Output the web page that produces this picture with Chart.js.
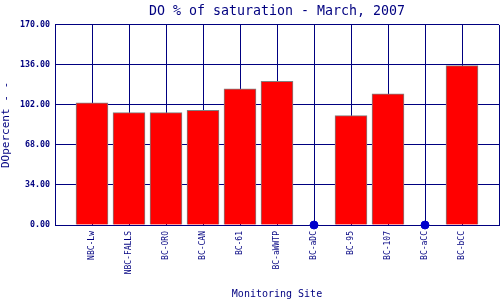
<!DOCTYPE html>
<html>
<head>
<meta charset="utf-8">
<script src="https://cdn.jsdelivr.net/npm/chart.js@4"></script>
<style>
  html, body { margin: 0; padding: 0; background: #fff; }
  #wrap { width: 500px; height: 300px; }
</style>
</head>
<body>
<div id="wrap"><canvas id="chart" width="500" height="300"></canvas></div>
<script>
// sites along the x axis
const sites = ["NBC-Lw", "NBC-FALLS", "BC-ORO", "BC-CAN", "BC-61", "BC-aWWTP",
               "BC-aDC", "BC-95", "BC-107", "BC-aCC", "BC-bCC"];
// DO % of saturation, null = no sample (drawn as dot at zero)
const doPercent = [103.9, 95.5, 95.5, 97.4, 115.8, 122.0, null, 92.9, 111.5, null, 135.5];
const yTicks = [0, 34, 68, 102, 136, 170];

const navy = "#000080";
const mono = "'DejaVu Sans Mono', 'Liberation Mono', monospace";

// pad with empty slots so gridlines sit on each site, like the original
const labels = [""].concat(sites, [""]);
const barData = [null].concat(doPercent, [null]);
const missing = [null].concat(doPercent.map(v => v === null ? 0 : null), [null]);

new Chart(document.getElementById("chart"), {
  data: {
    labels: labels,
    datasets: [
      {
        type: "line",
        data: missing,
        backgroundColor: "#0000cc",
        borderColor: "#0000cc",
        pointRadius: 4,
        showLine: false,
        clip: false,
        order: 0
      },
      {
        type: "bar",
        data: barData,
        backgroundColor: "#ff0000",
        borderColor: "#808080",
        borderWidth: 1,
        barThickness: 32,
        order: 1
      }
    ]
  },
  options: {
    responsive: false,
    animation: false,
    layout: { autoPadding: false, padding: { top: 0, right: 1, left: 0, bottom: 0 } },
    plugins: {
      legend: { display: false },
      tooltip: { enabled: false },
      title: {
        display: true,
        fullSize: false, // centre over the plot, not the canvas
        text: "DO % of saturation - March, 2007",
        color: navy,
        font: { family: mono, size: 13.3, weight: "normal" },
        padding: { top: 4, bottom: 5 }
      }
    },
    scales: {
      x: {
        type: "category",
        offset: false,
        grid: { color: navy, lineWidth: 1, drawTicks: false, offset: false },
        border: { color: navy, width: 1 },
        ticks: {
          color: navy,
          autoSkip: false,
          minRotation: 90,
          maxRotation: 90,
          padding: 6,
          font: { family: mono, size: 8 }
        },
        title: {
          display: true,
          text: "Monitoring Site",
          color: navy,
          font: { family: mono, size: 10 },
          padding: { top: 0, bottom: 0 }
        },
        // rotated labels would otherwise pad the plot's right side
        afterFit: s => { s.height = 75; s.paddingLeft = 0; s.paddingRight = 0; }
      },
      y: {
        min: 0,
        max: 170,
        afterBuildTicks: s => { s.ticks = yTicks.map(v => ({ value: v })); },
        grid: { color: navy, lineWidth: 1, drawTicks: false },
        border: { color: navy, width: 1 },
        ticks: {
          color: navy,
          padding: 5,
          font: { family: mono, size: 8.3, weight: "bold" },
          callback: v => v.toFixed(2)
        },
        title: {
          display: true,
          text: "DOpercent - -",
          color: navy,
          font: { family: mono, size: 11 },
          padding: { top: 0, bottom: 2 }
        },
        afterFit: s => { s.width = 55; s.paddingTop = 0; s.paddingBottom = 0; }
      }
    }
  }
});
</script>
</body>
</html>
